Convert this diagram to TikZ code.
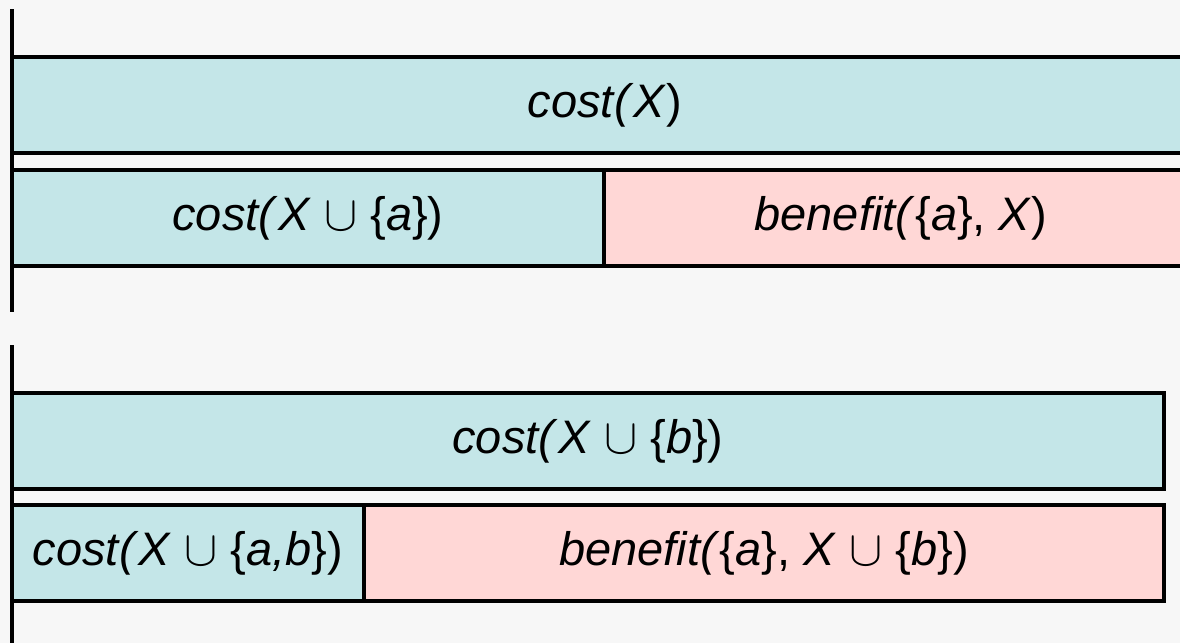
\documentclass[tikz,border=0pt]{standalone}
\usepackage{fontspec}
\setmainfont{Liberation Sans}
\usetikzlibrary{positioning}

\definecolor{paper}{HTML}{F7F7F7}
\definecolor{costfill}{HTML}{C4E6E8}
\definecolor{gainfill}{HTML}{FFD7D6}

\newcommand{\cst}{\textit{cost(}}
\newcommand{\bnf}{\textit{benefit(}}

\begin{document}
\begin{tikzpicture}[x=0.5pt, y=-0.5pt,
  font=\fontsize{23.5}{28}\selectfont,
  bar/.style={draw, line width=2pt, inner sep=0pt, outer sep=0pt,
              minimum height=48pt, anchor=north west},
  costbar/.style={bar, fill=costfill},
  gainbar/.style={bar, fill=gainfill},
  rule/.style={line width=2pt}]
\fill[paper] (0,0) rectangle (1180,643);
\useasboundingbox (0,0) rectangle (1180,643);
\clip (0,0) rectangle (1180,643);

% first stack: X, then X with a added
\node[costbar, minimum width=593pt] (costX) at (12,57)
  {\cst\textit{X})};
\node[costbar, minimum width=296pt, below=8.5pt of costX.south west,
  anchor=north west] (costXa) {\cst\textit{X} $\cup$ \{\textit{a}\})};
\node[gainbar, minimum width=297pt, right=0pt of costXa] (benefitA)
  {\bnf\{\textit{a}\}, \textit{X})};
\draw[rule] (12,9) -- (12,312);

% second stack: same step after b is in
\node[costbar, minimum width=576pt] (costXb) at (12,393)
  {\cst\textit{X} $\cup$ \{\textit{b}\})};
\node[costbar, minimum width=176pt, below=8pt of costXb.south west,
  anchor=north west] (costXab) {\cst\textit{X} $\cup$ \{\textit{a,b}\})};
\node[gainbar, minimum width=400pt, right=0pt of costXab] (benefitAb)
  {\bnf\{\textit{a}\}, \textit{X} $\cup$ \{\textit{b}\})};
\draw[rule] (12,345) -- (12,650);
\end{tikzpicture}
\end{document}
